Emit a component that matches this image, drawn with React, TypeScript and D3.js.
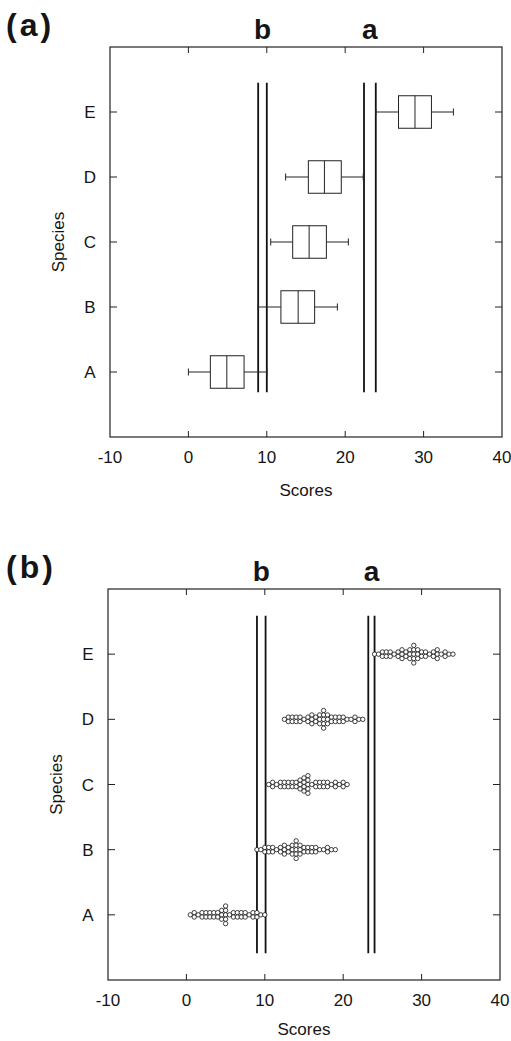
import React from "react";
import * as d3 from "d3";

const species = ["A", "B", "C", "D", "E"];
const xTicks = [-10, 0, 10, 20, 30, 40];
const groupLabels = ["b", "a"];

// panel (a): lower whisker, Q1, median, Q3, upper whisker per species
const whiskerLow = [0.0, 8.9, 10.5, 12.4, 23.9];
const quartile1 = [2.8, 11.8, 13.3, 15.3, 26.8];
const medians = [4.9, 14.0, 15.4, 17.35, 28.9];
const quartile3 = [7.1, 16.1, 17.6, 19.5, 31.0];
const whiskerHigh = [10.0, 19.0, 20.4, 22.3, 33.8];

// panel (b): individual scores
const scoresA = [0.5, 1, 1, 1.5, 2, 2, 2.5, 2.5, 3, 3, 3.5, 3.5, 4, 4, 4.5, 4.5, 4.5, 5, 5, 5, 5, 5, 5.5, 6, 6, 6.5, 6.5, 7, 7, 7.5, 7.5, 8, 8.5, 8.5, 9, 9, 9.5, 10];
const scoresB = [9, 9.5, 10, 10, 10.5, 10.5, 11, 11, 11.5, 12, 12, 12.5, 12.5, 12.5, 13, 13, 13.5, 13.5, 13.5, 14, 14, 14, 14, 14, 14.5, 14.5, 14.5, 15, 15, 15.5, 15.5, 16, 16, 16.5, 16.5, 17, 17.5, 18, 18, 18.5, 19];
const scoresC = [10.5, 11, 11, 11.5, 12, 12, 12.5, 12.5, 13, 13, 13.5, 13.5, 14, 14, 14.5, 14.5, 14.5, 15, 15, 15, 15, 15.5, 15.5, 15.5, 15.5, 15.5, 16, 16.5, 16.5, 17, 17, 17.5, 17.5, 18, 18, 18.5, 19, 19, 19.5, 20, 20, 20.5];
const scoresD = [12.5, 13, 13, 13.5, 13.5, 14, 14, 14.5, 14.5, 15, 15.5, 15.5, 16, 16, 16, 16.5, 16.5, 17, 17, 17, 17.5, 17.5, 17.5, 17.5, 17.5, 18, 18, 18, 18.5, 18.5, 19, 19, 19.5, 19.5, 20, 20, 20.5, 21, 21.5, 21.5, 22, 22.5];
const scoresE = [24, 24.5, 25, 25, 25.5, 25.5, 26, 26, 26.5, 27, 27, 27.5, 27.5, 27.5, 28, 28, 28.5, 28.5, 28.5, 29, 29, 29, 29, 29, 29.5, 29.5, 29.5, 30, 30, 30.5, 30.5, 31, 31.5, 31.5, 32, 32, 32, 32.5, 33, 33, 33.5, 34];
const scores = [scoresA, scoresB, scoresC, scoresD, scoresE];

// paired vertical lines bounding each homogeneous group (b, a)
const groupLinesA = [[8.9, 10.0], [22.4, 23.9]];
const groupLinesB = [[9.0, 10.1], [23.2, 24.0]];

const FONT = "'Liberation Sans', Arial, Helvetica, sans-serif";
const INK = "#151515";

type PanelProps = {
  tag: string;
  left: number;
  right: number;
  top: number;
  bottom: number;
  lines: number[][];
  lineSpan: [number, number];
  titleGap: number;
  kind: "box" | "dots";
};

function Panel(p: PanelProps) {
  const x = d3.scaleLinear().domain([-10, 40]).range([p.left, p.right]);
  const y = d3.scaleLinear().domain([0, 6]).range([p.bottom, p.top]);
  const yCat = (i: number) => y(i + 1);
  const halfBox = (y(0) - y(1)) * 0.25;

  return (
    <g>
      <text
        x={6}
        y={p.top - 11}
        fontFamily={FONT}
        fontWeight="bold"
        fontSize={32}
        letterSpacing={3}
        fill={INK}
      >
        {p.tag}
      </text>
      {groupLabels.map((g, i) => (
        <text
          key={g}
          x={x(d3.mean(p.lines[i]) as number)}
          y={p.top - 8}
          textAnchor="middle"
          fontFamily={FONT}
          fontWeight="bold"
          fontSize={28}
          fill={INK}
        >
          {g}
        </text>
      ))}

      <rect
        x={p.left}
        y={p.top}
        width={p.right - p.left}
        height={p.bottom - p.top}
        fill="none"
        stroke="#222"
        strokeWidth={1.2}
      />

      {xTicks.slice(1, -1).map((t) => (
        <g key={t} stroke="#222" strokeWidth={1}>
          <line x1={x(t)} x2={x(t)} y1={p.bottom} y2={p.bottom - 6} />
          <line x1={x(t)} x2={x(t)} y1={p.top} y2={p.top + 6} />
        </g>
      ))}
      {xTicks.map((t) => (
        <text
          key={t}
          x={x(t)}
          y={p.bottom + 26}
          textAnchor="middle"
          fontFamily={FONT}
          fontSize={17}
          fill={INK}
        >
          {t}
        </text>
      ))}
      <text x={x(15)} y={p.bottom + p.titleGap} textAnchor="middle" fontFamily={FONT} fontSize={17} fill={INK}>
        Scores
      </text>

      {species.map((s, i) => (
        <g key={s}>
          <line x1={p.left} x2={p.left + 7} y1={yCat(i)} y2={yCat(i)} stroke="#222" />
          <line x1={p.right} x2={p.right - 7} y1={yCat(i)} y2={yCat(i)} stroke="#222" />
          <text
            x={p.left - 20}
            y={yCat(i) + 6}
            textAnchor="middle"
            fontFamily={FONT}
            fontSize={17}
            fill={INK}
          >
            {s}
          </text>
        </g>
      ))}
      <text
        transform={`translate(${p.left - 46},${y(3)}) rotate(-90)`}
        textAnchor="middle"
        fontFamily={FONT}
        fontSize={17}
        fill={INK}
      >
        Species
      </text>

      {p.lines.flat().map((v, i) => (
        <line
          key={i}
          x1={x(v)}
          x2={x(v)}
          y1={y(p.lineSpan[0])}
          y2={y(p.lineSpan[1])}
          stroke="#111"
          strokeWidth={1.8}
        />
      ))}

      {p.kind === "box" &&
        species.map((s, i) => {
          const cy = yCat(i);
          return (
            <g key={s} stroke="#222" strokeWidth={1} fill="none">
              <line x1={x(whiskerLow[i])} x2={x(quartile1[i])} y1={cy} y2={cy} />
              <line x1={x(quartile3[i])} x2={x(whiskerHigh[i])} y1={cy} y2={cy} />
              <line x1={x(whiskerLow[i])} x2={x(whiskerLow[i])} y1={cy - 3.5} y2={cy + 3.5} />
              <line x1={x(whiskerHigh[i])} x2={x(whiskerHigh[i])} y1={cy - 3.5} y2={cy + 3.5} />
              <rect
                x={x(quartile1[i])}
                y={cy - halfBox}
                width={x(quartile3[i]) - x(quartile1[i])}
                height={halfBox * 2}
                fill="#fff"
              />
              <line x1={x(medians[i])} x2={x(medians[i])} y1={cy - halfBox} y2={cy + halfBox} />
            </g>
          );
        })}

      {p.kind === "dots" &&
        species.map((s, i) => {
          const cy = yCat(i);
          const step = 4.4;
          const stacks = d3.groups(scores[i], (v) => v);
          return (
            <g key={s} fill="#fff" stroke="#111" strokeWidth={0.8}>
              {stacks.flatMap(([v, vals]) =>
                vals.map((_, k) => (
                  <circle key={`${v}-${k}`} cx={x(v)} cy={cy + (k - (vals.length - 1) / 2) * step} r={2.2} />
                ))
              )}
            </g>
          );
        })}
    </g>
  );
}

export default function App() {
  return (
    <svg
      width={511}
      height={1041}
      style={{ position: "absolute", left: 0, top: 0, background: "#fff" }}
    >
      <Panel tag="(a)" left={110} right={502} top={47} bottom={437} lines={groupLinesA} lineSpan={[0.69, 5.45]} titleGap={59} kind="box" />
      <Panel tag="(b)" left={108} right={500} top={589} bottom={980} lines={groupLinesB} lineSpan={[0.41, 5.59]} titleGap={55} kind="dots" />
    </svg>
  );
}
